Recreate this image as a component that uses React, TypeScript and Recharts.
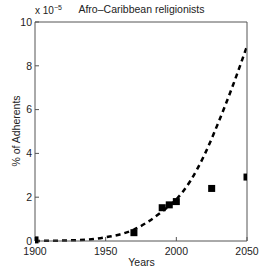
import { ComposedChart, Line, Scatter, XAxis, YAxis } from "recharts";

const fitYears = [1900, 1910, 1920, 1930, 1940, 1950, 1960, 1970, 1980, 1990, 2000, 2010, 2020, 2030, 2040, 2050];
const fitValues = [0, 0.01, 0.02, 0.04, 0.08, 0.17, 0.3, 0.52, 0.88, 1.35, 1.9, 2.75, 3.95, 5.45, 7.1, 8.9];

const obsYears = [1900, 1970, 1990, 1995, 2000, 2025, 2050];
const obsValues = [0.05, 0.38, 1.52, 1.65, 1.8, 2.4, 2.92];

const xTicks = [1900, 1950, 2000, 2050];
const yTicks = [0, 2, 4, 6, 8, 10];

const fitData = fitYears.map((x, i) => ({ x, y: fitValues[i] }));
const obsData = obsYears.map((x, i) => ({ x, y: obsValues[i] }));

const font = "'Liberation Sans', Arial, sans-serif";
const tickStyle = { fontSize: 10.5, fill: "#222", fontFamily: font };
const axisColor = "#555";

const Square = (props: any) => (
  <rect x={props.cx - 3.5} y={props.cy - 3.5} width={7} height={7} fill="#000" />
);

const NoTick = () => <g />;

export default function App() {
  return (
    <div style={{ position: "absolute", left: 0, top: 0, width: 273, height: 273, background: "#fff", fontFamily: font, color: "#222" }}>
      <ComposedChart width={273} height={273} margin={{ top: 21, right: 25, bottom: 0, left: 0 }}>
        <XAxis
          type="number"
          dataKey="x"
          domain={[1900, 2050]}
          ticks={xTicks}
          tickSize={-4}
          tickMargin={11}
          height={32}
          stroke={axisColor}
          tick={tickStyle}
          allowDataOverflow
        />
        <XAxis
          xAxisId="top"
          orientation="top"
          type="number"
          dataKey="x"
          domain={[1900, 2050]}
          ticks={xTicks}
          tickSize={-4}
          height={1}
          stroke={axisColor}
          tick={NoTick}
        />
        <YAxis
          type="number"
          domain={[0, 10]}
          ticks={yTicks}
          tickSize={-4}
          tickMargin={7}
          width={35}
          stroke={axisColor}
          tick={tickStyle}
        />
        <YAxis
          yAxisId="right"
          orientation="right"
          type="number"
          domain={[0, 10]}
          ticks={yTicks}
          tickSize={-4}
          width={1}
          stroke={axisColor}
          tick={NoTick}
        />
        <Line
          data={fitData}
          dataKey="y"
          type="monotone"
          stroke="#000"
          strokeWidth={2.5}
          strokeDasharray="5 4"
          dot={false}
          isAnimationActive={false}
        />
        <Scatter data={obsData} dataKey="y" shape={Square} isAnimationActive={false} />
      </ComposedChart>
      <div style={{ position: "absolute", left: 0, width: 283, top: 3, textAlign: "center", fontSize: 10.5 }}>
        Afro–Caribbean religionists
      </div>
      <div style={{ position: "absolute", left: 35, top: 4, fontSize: 10 }}>
        x 10<sup style={{ fontSize: 7 }}>−5</sup>
      </div>
      <div style={{ position: "absolute", left: 0, width: 283, top: 256, textAlign: "center", fontSize: 10.5 }}>
        Years
      </div>
      <div
        style={{
          position: "absolute",
          left: 16,
          top: 131,
          fontSize: 10.5,
          whiteSpace: "nowrap",
          transform: "translate(-50%, -50%) rotate(-90deg)",
        }}
      >
        % of Adherents
      </div>
    </div>
  );
}
